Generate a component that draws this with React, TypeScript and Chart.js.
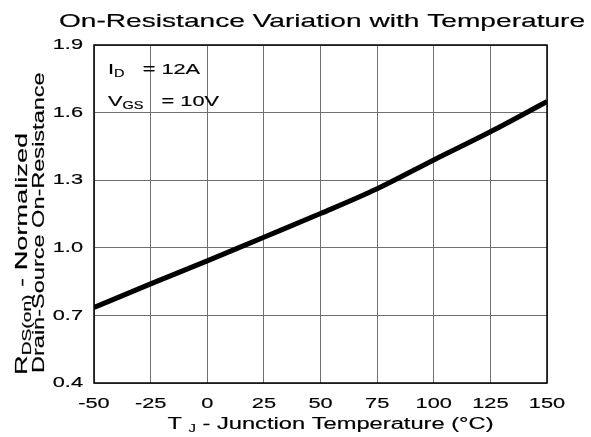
import React, { useEffect, useRef } from "react";
import { Chart, registerables } from "chart.js";

Chart.register(...registerables);

const temperatures = [-50, -25, 0, 25, 50, 75, 100, 125, 150];
const rdsNormalized = [0.735, 0.84, 0.942, 1.047, 1.152, 1.262, 1.39, 1.515, 1.649];
const xTickStep = 25;
const yTicks = [0.4, 0.7, 1.0, 1.3, 1.6, 1.9];

const FONT = "'Liberation Sans', Arial, sans-serif";
const SX = 1.45;

type Seg = { t: string; size: number; dy?: number };

function segWidth(ctx: CanvasRenderingContext2D, segs: Seg[]) {
  let w = 0;
  for (const s of segs) {
    ctx.font = `${s.size}px ${FONT}`;
    w += ctx.measureText(s.t).width;
  }
  return w;
}

function drawSegs(
  ctx: CanvasRenderingContext2D,
  segs: Seg[],
  x: number,
  y: number,
  align: "left" | "center" | "right",
  sx: number,
  baseline: CanvasTextBaseline = "alphabetic",
  rotate = false
) {
  ctx.save();
  ctx.translate(x, y);
  if (rotate) ctx.rotate(-Math.PI / 2);
  const w = segWidth(ctx, segs) * sx;
  let start = 0;
  if (align === "center") start = -w / 2;
  else if (align === "right") start = -w;
  ctx.translate(start, 0);
  ctx.scale(sx, 1);
  ctx.fillStyle = "#000";
  ctx.strokeStyle = "#000";
  ctx.lineWidth = 0.18;
  ctx.textAlign = "left";
  ctx.textBaseline = baseline;
  let cx = 0;
  for (const s of segs) {
    ctx.font = `${s.size}px ${FONT}`;
    ctx.fillText(s.t, cx, s.dy || 0);
    ctx.strokeText(s.t, cx, s.dy || 0);
    cx += ctx.measureText(s.t).width;
  }
  ctx.restore();
}

const textPlugin = {
  id: "textPlugin",
  afterDraw(chart: any) {
    const ctx: CanvasRenderingContext2D = chart.ctx;
    const area = chart.chartArea;
    const xs = chart.scales.x;
    const ys = chart.scales.y;

    // frame
    ctx.save();
    ctx.strokeStyle = "#000";
    ctx.lineWidth = 1.5;
    ctx.strokeRect(area.left, area.top, area.right - area.left, area.bottom - area.top);
    ctx.restore();

    // title
    drawSegs(ctx, [{ t: "On-Resistance Variation with Temperature", size: 19 }], 322, 27, "center", 1.48);

    // y tick labels
    for (const t of ys.ticks) {
      const py = ys.getPixelForValue(t.value);
      drawSegs(ctx, [{ t: Number(t.value).toFixed(1), size: 15 }], area.left - 11, py, "right", SX, "middle");
    }
    // x tick labels
    for (const t of xs.ticks) {
      const px = xs.getPixelForValue(t.value);
      drawSegs(ctx, [{ t: String(t.value), size: 15 }], px, area.bottom + 25, "center", SX);
    }

    // x title
    drawSegs(
      ctx,
      [
        { t: "T ", size: 16 },
        { t: "J", size: 10, dy: 3 },
        { t: " - Junction Temperature (°C)", size: 16 },
      ],
      (area.left + area.right) / 2 + 10,
      area.bottom + 46,
      "center",
      1.48
    );

    // y title (two rotated lines)
    drawSegs(
      ctx,
      [
        { t: "R", size: 17 },
        { t: "DS(on)", size: 12, dy: 4 },
        { t: " - Normalized", size: 17 },
      ],
      27,
      area.bottom - 8,
      "left",
      1.6,
      "alphabetic",
      true
    );
    drawSegs(
      ctx,
      [{ t: "Drain-Source On-Resistance", size: 16 }],
      44,
      area.bottom - 10,
      "left",
      1.47,
      "alphabetic",
      true
    );

    // annotations
    drawSegs(
      ctx,
      [
        { t: "I", size: 15 },
        { t: "D", size: 10, dy: 3 },
        { t: "   = 12A", size: 15 },
      ],
      area.left + 14,
      area.top + 29,
      "left",
      SX
    );
    drawSegs(
      ctx,
      [
        { t: "V", size: 15 },
        { t: "GS", size: 10, dy: 3 },
        { t: "   = 10V", size: 15 },
      ],
      area.left + 14,
      area.top + 61,
      "left",
      SX
    );
  },
};

export default function App() {
  const ref = useRef<HTMLCanvasElement | null>(null);
  useEffect(() => {
    if (!ref.current) return;
    const chart = new Chart(ref.current, {
      type: "line",
      data: {
        datasets: [
          {
            data: temperatures.map((t, i) => ({ x: t, y: rdsNormalized[i] })),
            borderColor: "#000",
            borderWidth: 5,
            pointRadius: 0,
            cubicInterpolationMode: "monotone",
            fill: false,
          },
        ],
      },
      options: {
        responsive: false,
        animation: false,
        devicePixelRatio: 1,
        layout: { padding: { top: 45, right: 44, left: 0, bottom: 0 } },
        plugins: { legend: { display: false }, tooltip: { enabled: false }, title: { display: false } },
        scales: {
          x: {
            type: "linear",
            min: -50,
            max: 150,
            ticks: { display: false, stepSize: xTickStep },
            grid: { color: "#707070", lineWidth: 1, drawTicks: false },
            border: { display: false },
            afterFit: (s: any) => {
              s.height = 54;
            },
          },
          y: {
            type: "linear",
            min: 0.4,
            max: 1.9,
            afterBuildTicks: (s: any) => {
              s.ticks = yTicks.map((v) => ({ value: v }));
            },
            ticks: { display: false },
            grid: { color: "#707070", lineWidth: 1, drawTicks: false },
            border: { display: false },
            afterFit: (s: any) => {
              s.width = 94;
            },
          },
        },
      } as any,
      plugins: [textPlugin],
    });
    return () => chart.destroy();
  }, []);
  return (
    <div style={{ position: "absolute", left: 0, top: 0, width: 591, height: 437, background: "#fff" }}>
      <canvas ref={ref} width={591} height={437} style={{ width: 591, height: 437 }} />
    </div>
  );
}
